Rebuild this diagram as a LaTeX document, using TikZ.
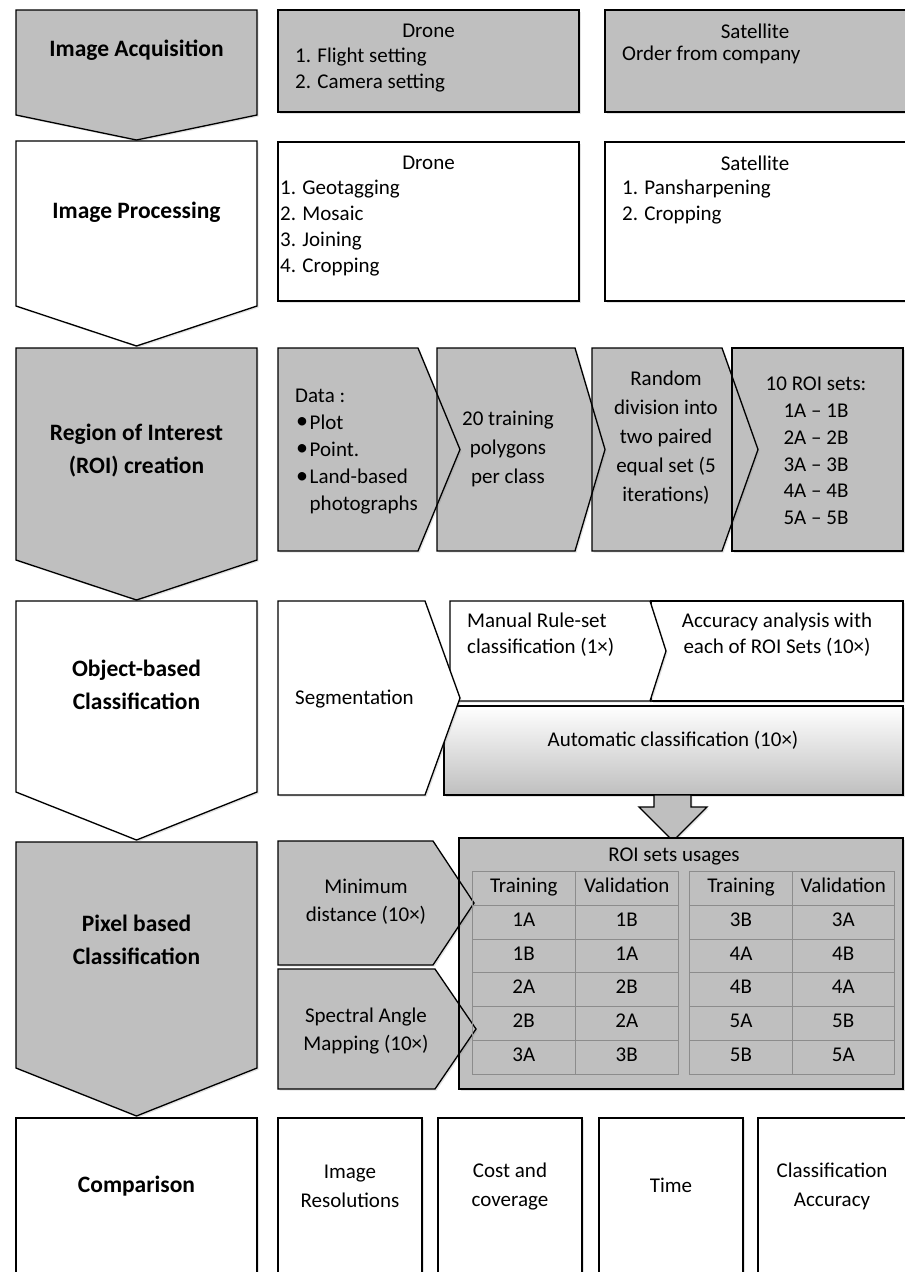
\documentclass[tikz,border=0pt]{standalone}
\usepackage{fontspec}
\setmainfont{Carlito}
\usetikzlibrary{shadows}
\definecolor{boxgray}{RGB}{191,191,191}
\definecolor{gridgray}{RGB}{140,140,140}
\newcommand{\bul}{\makebox[14.5pt][l]{\hspace*{1pt}\raisebox{0.5pt}{\fontsize{24}{24}\selectfont•}}}
\begin{document}
\begin{tikzpicture}[x=1pt,y=-1pt,
  txt/.style={font=\fontsize{21}{26}\selectfont, inner sep=0pt, align=center, text=black},
  lbl/.style={font=\fontsize{23.5}{33}\selectfont\bfseries, inner sep=0pt, align=center, text=black},
  cell/.style={txt, text height=14pt, text depth=4.5pt},
  outl/.style={draw=black, line width=1.3pt, line join=miter},
  shd/.style={drop shadow={shadow xshift=1.6pt, shadow yshift=-1.6pt, opacity=0.22}},
  gbox/.style={outl, fill=boxgray, shd},
  wbox/.style={outl, fill=white, shd},
  gfill/.style={fill=boxgray, shd},
  wfill/.style={fill=white, shd},
  gridln/.style={draw=gridgray, line width=0.9pt}
]
\useasboundingbox (0,0) rectangle (905,1272);

% ---------- left column chevrons ----------
\path[gbox] (16,10) -- (257,10) -- (257,115) -- (136.5,140) -- (16,115) -- cycle;
\path[wbox] (16,141) -- (257,141) -- (257,306) -- (136.5,346) -- (16,306) -- cycle;
\path[gbox] (16,348) -- (257,348) -- (257,560) -- (136.5,600) -- (16,560) -- cycle;
\path[wbox] (16,601) -- (257,601) -- (257,792) -- (136.5,840) -- (16,792) -- cycle;
\path[gbox] (16,842) -- (257,842) -- (257,1068) -- (136.5,1116) -- (16,1068) -- cycle;
\path[wbox] (16,1118) -- (257,1118) -- (257,1290) -- (16,1290) -- cycle;

\node[lbl] (acq) at (136.5,50) {Image Acquisition};
\node[lbl] (proc) at (136.5,212) {Image Processing};
\node[lbl] (roi) at (136.5,451) {Region of Interest\\(ROI) creation};
\node[lbl] (obj) at (136.5,685) {Object-based\\Classification};
\node[lbl] (pix) at (136.5,940) {Pixel based\\Classification};
\node[lbl] (comp) at (136.5,1186) {Comparison};

% ---------- row 1 ----------
\path[gbox] (278,10) rectangle (579,112);
\path[gbox] (605,10) rectangle (910,112);
\node[txt] (d1t) at (428.5,31) {Drone};
\node[txt, anchor=west, align=left] (d1l) at (295,70) {1. Flight setting\\2. Camera setting};
\node[txt] (s1t) at (755,31) {Satellite};
\node[txt, anchor=west] (s1l) at (622,55) {Order from company};

% ---------- row 2 ----------
\path[wbox] (278,142) rectangle (579,301);
\path[wbox] (605,142) rectangle (910,301);
\node[txt] (d2t) at (428.5,163) {Drone};
\node[txt, anchor=west, align=left] (d2l) at (280,228) {1. Geotagging\\2. Mosaic\\3. Joining\\4. Cropping};
\node[txt] (s2t) at (755,163) {Satellite};
\node[txt, anchor=west, align=left] (s2l) at (622,202) {1. Pansharpening\\2. Cropping};

% ---------- row 3 ----------
\path[gfill] (732,348) rectangle (903,551);
\path[gfill] (592,348) -- (722,348) -- (758,449.5) -- (722,551) -- (592,551) -- cycle;
\path[gfill] (437,348) -- (575,348) -- (605,449.5) -- (575,551) -- (437,551) -- cycle;
\path[gfill] (278,348) -- (418,348) -- (460,449.5) -- (418,551) -- (278,551) -- cycle;
\path[outl] (732,348) rectangle (903,551);
\path[outl] (592,348) -- (722,348) -- (758,449.5) -- (722,551) -- (592,551) -- cycle;
\path[outl] (437,348) -- (575,348) -- (605,449.5) -- (575,551) -- (437,551) -- cycle;
\path[outl] (278,348) -- (418,348) -- (460,449.5) -- (418,551) -- (278,551) -- cycle;

\node[txt, anchor=west, align=left, font=\fontsize{21}{27.2}\selectfont] (data) at (295,451.5)
  {Data :\\\bul Plot\\\bul Point.\\\bul Land-based\\\hspace*{14.5pt}photographs};
\node[txt, font=\fontsize{21}{29}\selectfont] (poly) at (508,449) {20 training\\polygons\\per class};
\node[txt, font=\fontsize{21}{29}\selectfont] (rand) at (666,438) {Random\\division into\\two paired\\equal set (5\\iterations)};
\node[txt, font=\fontsize{21}{26.8}\selectfont] (sets) at (816,451) {10 ROI sets:\\1A -- 1B\\2A -- 2B\\3A -- 3B\\4A -- 4B\\5A -- 5B};

% ---------- row 4 ----------
\path[wbox] (651,601) rectangle (903,701);
\path[outl, top color=white, bottom color=boxgray, shd] (444,706) rectangle (903,795);
\path[wbox] (450,601) -- (650,601) -- (666,651) -- (650,701) -- (450,701) -- cycle;
\path[wbox] (278,601) -- (425,601) -- (460,698) -- (425,795) -- (278,795) -- cycle;

\node[txt, anchor=west] (seg) at (295,699) {Segmentation};
\node[txt, anchor=west, align=left] (man) at (467,635) {Manual Rule-set\\classification (1×)};
\node[txt] (acc) at (777,635) {Accuracy analysis with\\each of ROI Sets (10×)};
\node[txt] (auto) at (673,740) {Automatic classification (10×)};

% block arrow from automatic classification to ROI usages
\path[gbox] (654,795) -- (691,795) -- (691,807) -- (707,807) -- (673,841) -- (639,807) -- (654,807) -- cycle;

% ---------- row 5 ----------
\path[gfill] (459,838) rectangle (903,1089);
\path[gfill] (278,841) -- (433,841) -- (474,903) -- (433,965) -- (278,965) -- cycle;
\path[gfill] (278,969) -- (435,969) -- (476,1029) -- (435,1089) -- (278,1089) -- cycle;
\path[outl] (459,838) rectangle (903,1089);
\path[outl] (278,841) -- (433,841) -- (474,903) -- (433,965) -- (278,965) -- cycle;
\path[outl] (278,969) -- (435,969) -- (476,1029) -- (435,1089) -- (278,1089) -- cycle;

\node[txt, font=\fontsize{21}{28}\selectfont] (mind) at (366,902) {Minimum\\distance (10×)};
\node[txt, font=\fontsize{21}{28}\selectfont] (sam) at (366,1031) {Spectral Angle\\Mapping (10×)};
\node[cell] (usage) at (674,857) {ROI sets usages};

\foreach \xa/\xb/\xc in {472/575.5/678, 689.5/792.5/894}{
  \draw[gridln] (\xa,871) rectangle (\xc,1074);
  \draw[gridln] (\xb,871) -- (\xb,1074);
  \foreach \yy in {905,939,972,1006,1040}
    \draw[gridln] (\xa,\yy) -- (\xc,\yy);
}
\foreach \yy/\a/\b/\c/\d [count=\r] in {
  888/Training/Validation/Training/Validation,
  922/1A/1B/3B/3A,
  955.5/1B/1A/4A/4B,
  989/2A/2B/4B/4A,
  1023/2B/2A/5A/5B,
  1057/3A/3B/5B/5A}{
  \node[cell] (ta\r) at (523.75,\yy) {\a};
  \node[cell] (tb\r) at (626.75,\yy) {\b};
  \node[cell] (tc\r) at (741,\yy) {\c};
  \node[cell] (td\r) at (843.25,\yy) {\d};
}

% ---------- row 6 ----------
\path[wbox] (278,1118) rectangle (422,1290);
\path[wbox] (438,1118) rectangle (582,1290);
\path[wbox] (599,1118) rectangle (743,1290);
\path[wbox] (758,1118) rectangle (910,1290);
\node[txt, font=\fontsize{21}{29}\selectfont] (res) at (350,1186) {Image\\Resolutions};
\node[txt, font=\fontsize{21}{29}\selectfont] (cost) at (510,1186) {Cost and\\coverage};
\node[txt] (time) at (671,1185) {Time};
\node[txt, font=\fontsize{21}{29}\selectfont] (cacc) at (832,1186) {Classification\\Accuracy};
\end{tikzpicture}
\end{document}
